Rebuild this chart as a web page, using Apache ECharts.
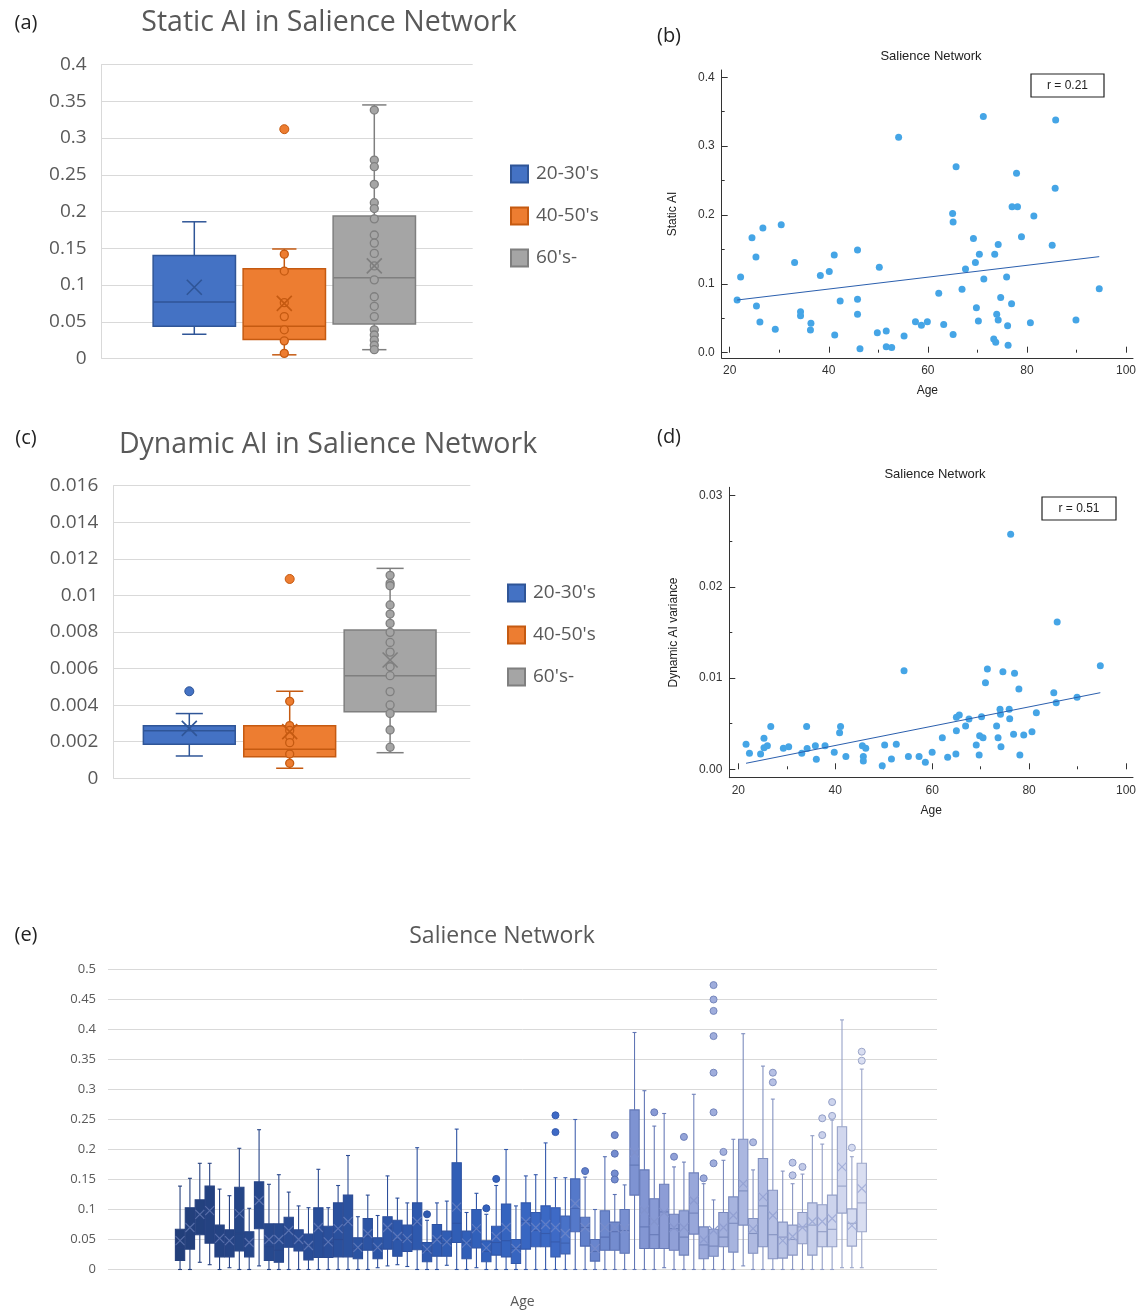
<!DOCTYPE html>
<html><head><meta charset="utf-8">
<script src="https://cdn.jsdelivr.net/npm/echarts/dist/echarts.min.js"></script>
<style>html,body{margin:0;padding:0;background:#fff}#c{width:1142px;height:1312px}</style>
</head><body><div id="c"></div>
<script>
// ---------------- DATA ----------------
const groupLabels = ["20-30's", "40-50's", "60's-"];

// (a) Static AI box plots: [min, Q1, median, Q3, max]
const staticBox = [
  [0.033, 0.044, 0.077, 0.140, 0.186],
  [0.005, 0.026, 0.044, 0.122, 0.149],
  [0.012, 0.047, 0.110, 0.194, 0.345]
];
const staticMean = [0.097, 0.075, 0.126];
const staticPoints = [
  [],
  [0.142, 0.119, 0.076, 0.057, 0.039, 0.024, 0.007],
  [0.338, 0.270, 0.261, 0.237, 0.212, 0.204, 0.190, 0.168, 0.157, 0.143, 0.126, 0.107, 0.084, 0.071, 0.057, 0.039, 0.032, 0.025, 0.018, 0.012]
];
const staticOutliers = [[1, 0.312]];

// (c) Dynamic AI box plots
const dynBox = [
  [0.00122, 0.00186, 0.0026, 0.00288, 0.00354],
  [0.00055, 0.00118, 0.00159, 0.00288, 0.00476],
  [0.0014, 0.00364, 0.00561, 0.00811, 0.01148]
];
const dynMean = [0.00273, 0.00255, 0.00647];
const dynPoints = [
  [],
  [0.00421, 0.00288, 0.00262, 0.00228, 0.00195, 0.00133, 0.00082],
  [0.0111, 0.01066, 0.01053, 0.00948, 0.00898, 0.00847, 0.00798, 0.00743, 0.0069, 0.0061, 0.00561, 0.00474, 0.00401, 0.00355, 0.00264, 0.0017]
];
const dynOutliers = [[0, 0.00476], [1, 0.0109], [2, 0.0161]];

// (b) Static AI vs Age
const staticScatter = [
  [21.5,0.0765],[22.2,0.110],[24.5,0.167],[25.3,0.139],[25.4,0.068],[26.1,0.0446],[26.7,0.181],
  [29.2,0.034],[30.4,0.186],[33.1,0.131],[34.3,0.0596],[34.3,0.0538],[36.3,0.033],[36.4,0.0426],
  [38.3,0.112],[40.1,0.118],[41.1,0.142],[41.2,0.0257],[42.3,0.075],[45.8,0.149],[45.8,0.0775],
  [45.8,0.0557],[46.3,0.0058],[49.8,0.029],[50.2,0.124],[51.6,0.0315],[51.6,0.0087],[52.7,0.0077],
  [54.1,0.313],[55.2,0.0242],[57.5,0.045],[58.7,0.040],[59.9,0.045],[62.2,0.0862],[63.2,0.041],
  [65.0,0.202],[65.1,0.190],[65.1,0.0266],[65.7,0.270],[66.9,0.092],[67.6,0.1215],[69.2,0.166],
  [69.6,0.131],[69.8,0.0654],[70.2,0.046],[70.4,0.143],[71.2,0.343],[71.3,0.107],[73.3,0.0199],
  [73.5,0.143],[73.7,0.015],[73.9,0.0557],[74.2,0.157],[74.2,0.0475],[74.7,0.080],[75.9,0.110],
  [76.1,0.039],[76.2,0.011],[76.9,0.071],[77.0,0.212],[77.9,0.2605],[78.1,0.212],[78.9,0.1685],
  [80.7,0.0436],[81.4,0.1985],[85.1,0.156],[85.7,0.2387],[85.8,0.338],[89.9,0.0475],[94.6,0.093]
];
const staticFit = [[21.5, 0.0765], [94.6, 0.1395]];
const staticR = 'r = 0.21';

// (d) Dynamic AI variance vs Age
const dynScatter = [
  [21.6,0.00274],[22.3,0.00175],[24.6,0.00168],[25.3,0.0034],[25.3,0.00237],[26.0,0.00259],[26.7,0.00468],
  [29.3,0.0023],[30.4,0.00248],[33.1,0.00175],[34.1,0.00468],[34.2,0.00227],[35.9,0.00259],[36.1,0.0011],
  [37.9,0.00259],[39.8,0.00186],[40.9,0.00402],[41.1,0.00468],[42.2,0.00139],[45.6,0.00259],[45.8,0.00139],
  [45.8,0.00091],[46.3,0.0023],[49.7,0.0004],[50.2,0.00267],[51.6,0.00113],[52.6,0.00274],[54.2,0.01081],
  [55.1,0.00139],[57.3,0.00139],[58.6,0.00077],[60.0,0.00186],[62.1,0.00347],[63.2,0.00132],[64.9,0.00168],
  [65.0,0.00424],[65.0,0.0057],[65.6,0.00596],[66.9,0.00475],[67.6,0.00552],[69.1,0.00267],[69.7,0.00157],
  [69.8,0.00369],[70.2,0.00577],[70.5,0.00347],[71.0,0.0095],[71.4,0.011],[73.3,0.00475],[73.6,0.00347],
  [74.0,0.00658],[74.1,0.00603],[74.2,0.00248],[74.6,0.0107],[75.9,0.00658],[76.0,0.00555],[76.2,0.02576],
  [76.8,0.00384],[77.0,0.01052],[77.9,0.0088],[78.1,0.00157],[78.9,0.00376],[80.6,0.00413],[81.5,0.00621],
  [85.1,0.0084],[85.6,0.00731],[85.8,0.01615],[89.9,0.00789],[94.7,0.01136]
];
const dynFit = [[21.6, 0.00066], [94.7, 0.0084]];
const dynR = 'r = 0.51';

// (e) Salience network by age: [min, Q1, median, Q3, max]
const netAges = ['20','21','22','23','24','25','26','27','28','29','30','31','32','33','34','35','36','37','38','39',
  '40','41','42','43','44','45','46','47','48','49','50','51','52','53','54','55','56','57','58','59',
  '60','61','62','63','64','65','66','67','68','69','70','71','72','73','74','75','76','77','78','79',
  '80','81','82','83','84','85','86','87','88','89'];
const netBox = [
  [0,0.015,0.037,0.067,0.139],[0,0.034,0.070,0.103,0.152],[0.012,0.058,0.087,0.116,0.177],[0.008,0.044,0.103,0.139,0.177],
  [0,0.021,0.051,0.074,0.134],[0.003,0.021,0.043,0.066,0.123],[0,0.031,0.060,0.137,0.202],[0,0.021,0.046,0.063,0.102],
  [0.006,0.068,0.118,0.146,0.233],[0,0.015,0.038,0.076,0.142],[0,0.012,0.032,0.076,0.158],[0,0.037,0.062,0.087,0.129],
  [0,0.031,0.045,0.066,0.106],[0,0.016,0.041,0.059,0.103],[0,0.020,0.066,0.103,0.167],[0,0.020,0.045,0.072,0.103],
  [0,0.021,0.050,0.111,0.140],[0,0.021,0.077,0.124,0.190],[0,0.018,0.035,0.053,0.088],[0,0.032,0.055,0.085,0.124],
  [0.003,0.018,0.035,0.053,0.090],[0.006,0.034,0.069,0.088,0.156],[0.008,0.022,0.050,0.082,0.119],[0.005,0.030,0.050,0.074,0.111],
  [0,0.033,0.076,0.111,0.203],[0,0.013,0.030,0.045,0.082],[0,0.022,0.050,0.075,0.111],[0.007,0.022,0.045,0.064,0.114],
  [0,0.045,0.077,0.178,0.234],[0,0.018,0.045,0.064,0.095],[0.003,0.036,0.066,0.100,0.127],[0,0.013,0.030,0.048,0.092],
  [0,0.024,0.045,0.072,0.140],[0,0.021,0.048,0.109,0.200],[0,0.010,0.035,0.050,0.106],[0,0.034,0.080,0.111,0.156],
  [0,0.038,0.065,0.095,0.158],[0,0.038,0.060,0.106,0.211],[0,0.021,0.046,0.103,0.153],[0,0.026,0.044,0.089,0.153],
  [0,0.063,0.102,0.151,0.250],[0,0.039,0.070,0.087,0.154],[0,0.014,0.030,0.050,0.100],[0,0.032,0.054,0.098,0.188],
  [0,0.032,0.063,0.079,0.125],[0,0.027,0.065,0.100,0.141],[0,0.124,0.174,0.266,0.395],[0,0.035,0.071,0.166,0.298],
  [0,0.035,0.058,0.118,0.239],[0.003,0.035,0.096,0.142,0.260],[0,0.032,0.068,0.092,0.171],[0,0.024,0.054,0.098,0.179],
  [0,0.059,0.094,0.161,0.292],[0,0.018,0.041,0.071,0.143],[0,0.022,0.039,0.067,0.116],[0,0.038,0.054,0.095,0.182],
  [0,0.029,0.077,0.121,0.217],[0.006,0.074,0.131,0.217,0.393],[0,0.027,0.060,0.085,0.166],[0,0.038,0.106,0.185,0.339],
  [0,0.018,0.058,0.132,0.284],[0,0.019,0.054,0.079,0.164],[0,0.024,0.050,0.074,0.143],[0,0.043,0.071,0.095,0.159],
  [0,0.024,0.074,0.111,0.223],[0,0.038,0.063,0.108,0.209],[0,0.038,0.067,0.124,0.249],[0.003,0.094,0.139,0.238,0.416],
  [0.003,0.039,0.077,0.101,0.188],[0.003,0.063,0.111,0.177,0.334]
];
const netMean = [
  0.048,0.070,0.092,0.098,0.052,0.048,0.093,0.045,0.115,0.050,
  0.050,0.065,0.050,0.040,0.070,0.046,0.068,0.080,0.037,0.060,
  0.037,0.070,0.055,0.052,0.080,0.034,0.050,0.046,0.104,0.044,
  0.068,0.036,0.055,0.070,0.035,0.080,0.070,0.075,0.070,0.060,
  0.110,0.070,0.035,0.070,0.070,0.068,0.195,0.099,0.080,0.095,
  0.070,0.070,0.115,0.050,0.065,0.070,0.090,0.143,0.068,0.121,
  0.090,0.048,0.055,0.070,0.080,0.080,0.085,0.171,0.073,0.135
];
const netOutliers = [
  [25,0.092],[31,0.102],[32,0.151],[38,0.257],[38,0.229],[41,0.164],[44,0.224],[44,0.193],[44,0.16],[44,0.15],
  [48,0.262],[50,0.188],[51,0.221],[53,0.152],[54,0.474],[54,0.45],[54,0.431],[54,0.389],[54,0.328],[54,0.262],
  [54,0.177],[55,0.196],[58,0.212],[60,0.328],[60,0.312],[62,0.178],[62,0.157],[63,0.171],[65,0.252],[65,0.224],
  [66,0.279],[66,0.256],[68,0.203],[69,0.363],[69,0.348]
];

// ---------------- STYLE ----------------
const FX = "'Open Sans', 'Noto Sans', sans-serif";
const FM = "'Liberation Sans', Arial, sans-serif";
const GREY = '#595959';
const GL = '#d9d9d9';
const gFill = ['#4472c4', '#ed7d31', '#a5a5a5'];
const gLine = ['#2f5597', '#c55a11', '#7f7f7f'];
const eStops = [[0,'#223f7a'],[0.2,'#294e99'],[0.45,'#3261bc'],[0.55,'#3d6ac6'],[0.6,'#6683cc'],[0.7,'#8a9bd5'],[0.85,'#b1bce2'],[1,'#d9def1']];

function h2r(h){h=h.replace('#','');return [0,2,4].map(i=>parseInt(h.substr(i,2),16));}
function r2h(a){return '#'+a.map(v=>Math.round(v).toString(16).padStart(2,'0')).join('');}
function mix(a,b,t){const A=h2r(a),B=h2r(b);return r2h(A.map((v,i)=>v+(B[i]-v)*t));}
function eFill(i){
  const t = i/(netBox.length-1);
  for(let k=1;k<eStops.length;k++){
    if(t<=eStops[k][0]){const a=eStops[k-1],b=eStops[k];return mix(a[1],b[1],(t-a[0])/(b[0]-a[0]));}
  }
  return eStops[eStops.length-1][1];
}
function eLine(i){return mix(eFill(i),'#2a3f80',0.35);}
function eMark(i){return mix(eFill(i),'#8090c8',0.55);}

function boxRender(wFrac, cFrac, lw, fillFn, lineFn){
  return function(params, api){
    const i = api.value(0);
    const lo = api.coord([i, api.value(1)]);
    const q1 = api.coord([i, api.value(2)]);
    const md = api.coord([i, api.value(3)]);
    const q3 = api.coord([i, api.value(4)]);
    const hi = api.coord([i, api.value(5)]);
    const band = api.size([1, 0])[0];
    const bw = band*wFrac, cw = band*cFrac, x = lo[0];
    const f = fillFn(params.dataIndex), s = lineFn(params.dataIndex);
    const ls = {stroke:s, lineWidth:lw, fill:null};
    return {type:'group', children:[
      {type:'line', shape:{x1:x,y1:hi[1],x2:x,y2:q3[1]}, style:ls},
      {type:'line', shape:{x1:x,y1:q1[1],x2:x,y2:lo[1]}, style:ls},
      {type:'line', shape:{x1:x-cw/2,y1:hi[1],x2:x+cw/2,y2:hi[1]}, style:ls},
      {type:'line', shape:{x1:x-cw/2,y1:lo[1],x2:x+cw/2,y2:lo[1]}, style:ls},
      {type:'rect', shape:{x:x-bw/2,y:q3[1],width:bw,height:q1[1]-q3[1]}, style:{fill:f, stroke:s, lineWidth:lw}},
      {type:'line', shape:{x1:x-bw/2,y1:md[1],x2:x+bw/2,y2:md[1]}, style:ls}
    ]};
  };
}
const XPATH = 'path://M0,0L10,10M10,0L0,10';

// ---------------- GRIDS / AXES ----------------
const grids = [
  {left:101.7, top:64.5, width:371, height:294},      // 0 a frame
  {left:149.3, top:64.5, width:270, height:294},      // 1 a boxes
  {left:113.3, top:485.7, width:357, height:292.6},   // 2 c frame
  {left:139.1, top:485.7, width:301.2, height:292.6}, // 3 c boxes
  {left:108, top:969.5, width:829, height:300},       // 4 e frame
  {left:175.1, top:969.5, width:691.6, height:300},   // 5 e boxes
  {left:721.7, top:70, width:411.3, height:288},      // 6 b frame
  {left:729.7, top:77.3, width:396.3, height:275.4},  // 7 b data
  {left:729.3, top:487.3, width:403.7, height:290.4}, // 8 d frame
  {left:738.3, top:495.7, width:387.7, height:273.6}  // 9 d data
];

function hiddenCat(g, data){return {gridIndex:g, type:'category', data:data, show:false};}
function hiddenVal(g, min, max){return {gridIndex:g, type:'value', min:min, max:max, show:false};}
function excelY(g, max, interval, fs, margin, showLine){
  return {gridIndex:g, type:'value', min:0, max:max, interval:interval,
    axisLine:{show:showLine, lineStyle:{color:GL, width:1}}, axisTick:{show:false},
    axisLabel:{color:GREY, fontFamily:FX, fontSize:fs, margin:margin},
    splitLine:{show:true, lineStyle:{color:GL, width:1}}};
}
function frameAxis(g, name, gap){
  return {gridIndex:g, type:'value', min:0, max:1, axisLine:{show:true, onZero:false, lineStyle:{color:'#333', width:1}},
    axisTick:{show:false}, axisLabel:{show:false}, splitLine:{show:false},
    name:name, nameLocation:'middle', nameGap:gap, nameTextStyle:{fontFamily:FM, fontSize:12, color:'#222'}};
}
function mAxis(g, min, max, interval, offset, margin, fmt){
  return {gridIndex:g, type:'value', min:min, max:max, interval:interval, offset:offset,
    axisLine:{show:false, lineStyle:{color:'#333'}},
    axisTick:{show:true, inside:true, length:6, lineStyle:{color:'#333', width:1}},
    minorTick:{show:true, splitNumber:2, length:3, lineStyle:{color:'#333', width:1}},
    axisLabel:{fontFamily:FM, fontSize:12, color:'#333', margin:margin, formatter:fmt},
    splitLine:{show:false}, minorSplitLine:{show:false}};
}

const xAxes = [
  hiddenCat(0, ['']), hiddenCat(1, groupLabels),
  hiddenCat(2, ['']), hiddenCat(3, groupLabels),
  {gridIndex:4, type:'category', data:[''], axisLine:{show:false}, axisTick:{show:false}, axisLabel:{show:false},
   name:'Age', nameLocation:'middle', nameGap:26, nameTextStyle:{fontFamily:FX, fontSize:14, color:GREY}},
  hiddenCat(5, netAges),
  frameAxis(6, 'Age', 27), mAxis(7, 20, 100, 20, 5.3, 7, v=>String(v)),
  frameAxis(8, 'Age', 27), mAxis(9, 20, 100, 20, 8.4, 7, v=>String(v))
];
const yAxes = [
  excelY(0, 0.4, 0.05, 19, 15, true), hiddenVal(1, 0, 0.4),
  excelY(2, 0.016, 0.002, 19, 15, true), hiddenVal(3, 0, 0.016),
  excelY(4, 0.5, 0.05, 13, 12, false), hiddenVal(5, 0, 0.5),
  frameAxis(6, 'Static AI', 43), mAxis(7, 0, 0.4, 0.1, 8, 7, v=>v.toFixed(1)),
  frameAxis(8, 'Dynamic AI variance', 50), mAxis(9, 0, 0.03, 0.01, 9, 7, v=>v.toFixed(2))
];

// ---------------- SERIES ----------------
const series = [];
function groupPanel(box, mean, pts, outl, ax){
  box.forEach((b, g) => {
    series.push({type:'custom', name:groupLabels[g], xAxisIndex:ax, yAxisIndex:ax, z:2,
      itemStyle:{color:gFill[g], borderColor:gLine[g], borderWidth:1},
      encode:{x:0, y:[1,2,3,4,5]}, data:[[g].concat(b)],
      renderItem: boxRender(0.915, 0.27, 1.5, ()=>gFill[g], ()=>gLine[g])});
    series.push({type:'scatter', name:'pts'+ax+g, xAxisIndex:ax, yAxisIndex:ax, z:3, silent:true,
      symbolSize:8, itemStyle:{color:gFill[g], borderColor:gLine[g], borderWidth:1.3, opacity:1},
      data: pts[g].map(v=>[g, v])});
  });
  series.push({type:'scatter', name:'out'+ax, xAxisIndex:ax, yAxisIndex:ax, z:3, silent:true, clip:true,
    symbolSize:9, data: outl.map(o=>({value:o, itemStyle:{color:gFill[o[0]], borderColor:gLine[o[0]], borderWidth:1, opacity:1}}))});
  series.push({type:'scatter', name:'mean'+ax, xAxisIndex:ax, yAxisIndex:ax, z:4, silent:true,
    symbol:XPATH, symbolSize:15,
    data: mean.map((m,g)=>({value:[g,m], itemStyle:{color:'transparent', borderColor:gLine[g], borderWidth:1.6, opacity:1}}))});
}
groupPanel(staticBox, staticMean, staticPoints, staticOutliers, 1);
groupPanel(dynBox, dynMean, dynPoints, dynOutliers, 3);

// (e)
series.push({type:'custom', name:'net', xAxisIndex:5, yAxisIndex:5, z:2,
  encode:{x:0, y:[1,2,3,4,5]}, data: netBox.map((b,i)=>[i].concat(b)),
  renderItem: boxRender(0.94, 0.4, 1.1, eFill, eLine)});
series.push({type:'scatter', name:'netOut', xAxisIndex:5, yAxisIndex:5, z:3, silent:true, symbolSize:7,
  data: netOutliers.map(o=>({value:o, itemStyle:{color:eFill(o[0]), borderColor:eLine(o[0]), borderWidth:1, opacity:1}}))});
series.push({type:'scatter', name:'netMean', xAxisIndex:5, yAxisIndex:5, z:4, silent:true,
  symbol:XPATH, symbolSize:9,
  data: netMean.map((m,i)=>({value:[i,m], itemStyle:{color:'transparent', borderColor:eMark(i), borderWidth:1.2, opacity:1}}))});

// (b), (d)
const DOT = '#45a5e6', FIT = '#2b5fae';
series.push({type:'scatter', name:'bpts', xAxisIndex:7, yAxisIndex:7, symbolSize:7, itemStyle:{color:DOT, opacity:1}, data:staticScatter, silent:true});
series.push({type:'line', name:'bfit', xAxisIndex:7, yAxisIndex:7, symbol:'none', lineStyle:{color:FIT, width:1}, data:staticFit, silent:true});
series.push({type:'scatter', name:'dpts', xAxisIndex:9, yAxisIndex:9, symbolSize:7, itemStyle:{color:DOT, opacity:1}, data:dynScatter, silent:true});
series.push({type:'line', name:'dfit', xAxisIndex:9, yAxisIndex:9, symbol:'none', lineStyle:{color:FIT, width:1}, data:dynFit, silent:true});

// ---------------- TEXT ----------------
function txt(x, y, s, size, color, family, align){
  return {type:'text', x:x, y:y, silent:true, style:{text:s, align:align||'center', verticalAlign:'middle',
    fontSize:size, fontFamily:family, fill:color}};
}
function rBox(x, y, w, h, s){
  return {type:'group', x:x, y:y, silent:true, children:[
    {type:'rect', shape:{x:0, y:0, width:w, height:h}, style:{fill:'#fff', stroke:'#222', lineWidth:1.2}},
    {type:'text', x:w/2, y:h/2, style:{text:s, align:'center', verticalAlign:'middle', fontSize:12, fontFamily:FM, fill:'#222'}}
  ]};
}
const graphics = [
  txt(26, 23, '(a)', 20, '#222', FX), txt(669, 36, '(b)', 20, '#222', FX),
  txt(26, 438, '(c)', 20, '#222', FX), txt(669, 437, '(d)', 20, '#222', FX),
  txt(26, 935, '(e)', 20, '#222', FX),
  txt(329, 23, 'Static AI in Salience Network', 28.5, GREY, FX),
  txt(328, 445, 'Dynamic AI in Salience Network', 28.5, GREY, FX),
  txt(502, 936, 'Salience Network', 23, GREY, FX),
  txt(931, 56, 'Salience Network', 13, '#222', FM),
  txt(935, 474, 'Salience Network', 13, '#222', FM),
  rBox(1031, 74, 73, 23, staticR),
  rBox(1042, 497, 74, 23, dynR)
];

const legendBase = {orient:'vertical', icon:'rect', itemWidth:17, itemHeight:17, itemGap:22, selectedMode:false,
  data:groupLabels, textStyle:{fontFamily:FX, fontSize:19, color:GREY, lineHeight:20, padding:[0,0,0,3]}};

const chart = echarts.init(document.getElementById('c'), null, {renderer:'canvas'});
chart.setOption({
  animation:false,
  backgroundColor:'#ffffff',
  grid: grids,
  xAxis: xAxes,
  yAxis: yAxes,
  legend: [
    Object.assign({}, legendBase, {left:505, top:159}),
    Object.assign({}, legendBase, {left:502, top:578})
  ],
  graphic: graphics,
  series: series
});
</script></body></html>
